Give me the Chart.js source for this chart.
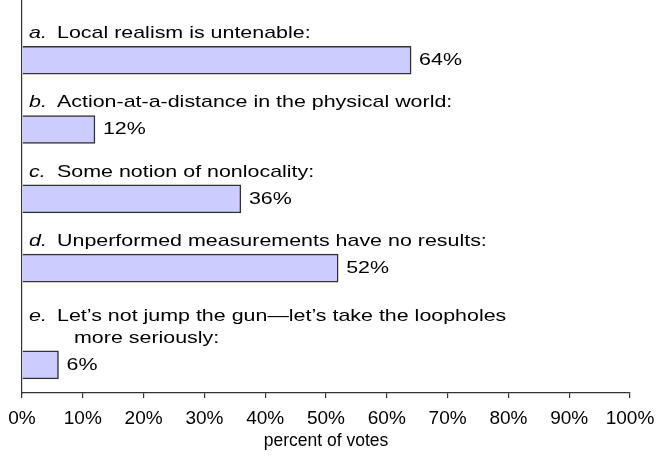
<!DOCTYPE html>
<html>
<head>
<meta charset="utf-8">
<script src="https://cdn.jsdelivr.net/npm/chart.js@4.4.1/dist/chart.umd.min.js"></script>
<style>
  html, body { margin: 0; padding: 0; background: #ffffff; }
  #wrap { width: 658px; height: 458px; position: relative; }
</style>
</head>
<body>
<div id="wrap"><canvas id="c" width="658" height="458"></canvas></div>
<script>
// ---- data ----
const categories = ['a.', 'b.', 'c.', 'd.', 'e.'];
const labelLines = [
  ['Local realism is untenable:'],
  ['Action-at-a-distance in the physical world:'],
  ['Some notion of nonlocality:'],
  ['Unperformed measurements have no results:'],
  ['Let\u2019s not jump the gun\u2014let\u2019s take the loopholes', 'more seriously:']
];
const values = [64, 12, 36, 52, 6];
const xTickValues = [0, 10, 20, 30, 40, 50, 60, 70, 80, 90, 100];
const xTitle = 'percent of votes';

// ---- row layout derived from number of label lines ----
const ROW_GAP = 1.52, ROW_START = -0.33, ROW_END = 1.02;
let acc = ROW_START;
const rowPos = labelLines.map(l => (acc += ROW_GAP + l.length));
const yMax = rowPos[rowPos.length - 1] + ROW_END;

const FONT = '"Liberation Sans", Arial, Helvetica, sans-serif';
const TEXT_SCALE_X = 1.26;
const LABEL_SIZE = 17;

function stretchedText(ctx, text, x, y, font) {
  ctx.save();
  ctx.font = font;
  ctx.translate(x, y);
  ctx.scale(TEXT_SCALE_X, 1);
  ctx.fillText(text, 0, 0);
  ctx.restore();
}

const labelPlugin = {
  id: 'barLabels',
  afterDatasetsDraw(chart) {
    const ctx = chart.ctx;
    const meta = chart.getDatasetMeta(0);
    const left = chart.chartArea.left;
    ctx.save();
    ctx.fillStyle = '#000';
    ctx.textBaseline = 'middle';
    ctx.textAlign = 'left';
    meta.data.forEach((el, i) => {
      const lines = labelLines[i];
      const n = lines.length;
      lines.forEach((line, j) => {
        const ly = el.y - 27 - (n - 1 - j) * 22;
        if (j === 0) {
          stretchedText(ctx, categories[i], left + 7, ly, 'italic ' + LABEL_SIZE + 'px ' + FONT);
          stretchedText(ctx, line, left + 35, ly, LABEL_SIZE + 'px ' + FONT);
        } else {
          stretchedText(ctx, line, left + 52, ly, LABEL_SIZE + 'px ' + FONT);
        }
      });
      stretchedText(ctx, values[i] + '%', el.x + 8, el.y, LABEL_SIZE + 'px ' + FONT);
    });
    ctx.restore();
  }
};

new Chart(document.getElementById('c'), {
  type: 'bar',
  data: {
    datasets: [{
      data: values.map((v, i) => ({ x: v, y: rowPos[i] })),
      backgroundColor: '#ccccff',
      borderColor: '#333333',
      borderWidth: 1.5,
      borderSkipped: 'start',
      barThickness: 28
    }]
  },
  options: {
    indexAxis: 'y',
    responsive: false,
    animation: false,
    layout: { padding: { left: 22, right: 28, top: 0, bottom: 6 } },
    plugins: { legend: { display: false }, tooltip: { enabled: false } },
    scales: {
      x: {
        type: 'linear',
        min: 0, max: 100,
        afterBuildTicks: (axis) => { axis.ticks = xTickValues.map(v => ({ value: v })); },
        afterFit: (s) => { s.height = 59; s.paddingLeft = 0; s.paddingRight = 0; },
        ticks: {
          callback: v => v + '%',
          color: '#000',
          font: { family: FONT, size: 19 },
          padding: 9,
          maxRotation: 0,
          autoSkip: false
        },
        grid: { display: true, drawOnChartArea: false, drawTicks: true, tickLength: 5, color: '#333', lineWidth: 1.2 },
        border: { display: true, color: '#333', width: 1.2 },
        title: { display: true, text: xTitle, color: '#000', font: { family: FONT, size: 17.5 }, padding: { top: 0, bottom: 0 } }
      },
      y: {
        type: 'linear',
        reverse: true,
        offset: false,
        min: 0, max: yMax,
        afterFit: (s) => { s.width = 0; },
        ticks: { display: false },
        grid: { display: false, drawTicks: false, offset: false },
        border: { display: true, color: '#333', width: 1.2 }
      }
    }
  },
  plugins: [labelPlugin]
});
</script>
</body>
</html>
